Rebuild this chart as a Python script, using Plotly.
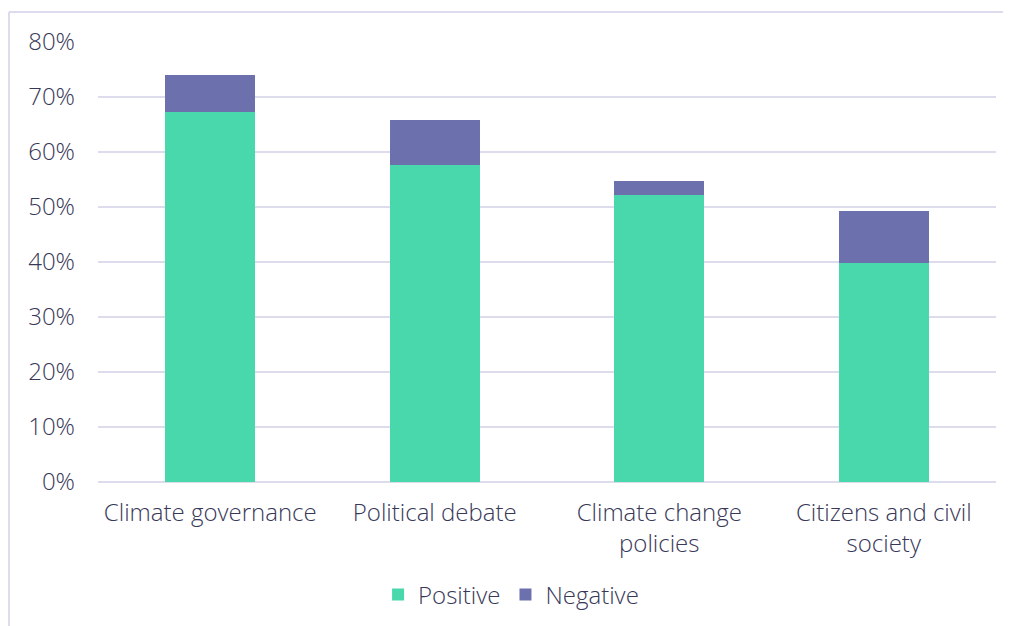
import plotly.graph_objects as go

categories = ["Climate governance", "Political debate", "Climate change<br>policies", "Citizens and civil<br>society"]
positive = [67.3, 57.6, 52.2, 39.8]
negative = [6.7, 8.2, 2.6, 9.5]
y_ticks = [0, 10, 20, 30, 40, 50, 60, 70, 80]
y_tick_labels = [f"{v}%" for v in y_ticks]

# page body has an 8px margin; coordinates below are relative to the figure origin
OFF = 8
W, H = 1011, 626
ml, mr, mt, mb = 98 - OFF, 15 + OFF, 42 - OFF, 144 + OFF
pw, ph = W - ml - mr, H - mt - mb

txt = "#383858"
font = "'Open Sans', sans-serif"
fs = 24

fig = go.Figure()
fig.add_trace(go.Bar(x=categories, y=positive, name="Positive", marker=dict(color="#48d8ac", line=dict(width=0))))
fig.add_trace(go.Bar(x=categories, y=negative, name="Negative", marker=dict(color="#6c71ae", line=dict(width=0))))

def px_x(x):
    return (x - OFF - ml) / pw

def px_y(y):
    return (H - mb - (y - OFF)) / ph

fig.update_layout(
    width=W, height=H,
    barmode="stack",
    bargap=0.6,
    margin=dict(l=ml, r=mr, t=mt, b=mb),
    plot_bgcolor="white", paper_bgcolor="white",
    font=dict(family=font, color=txt, size=fs, weight=300),
    showlegend=True,
    legend=dict(orientation="h", x=0.46, xanchor="center", y=px_y(595), yanchor="middle",
                font=dict(size=fs, color=txt, weight=300), itemwidth=30, traceorder="normal"),
    xaxis=dict(showgrid=False, showline=False, tickfont=dict(size=fs, color=txt, weight=300), ticks="",
               ticklabelstandoff=14, automargin=False),
    yaxis=dict(range=[0, 80], tickvals=y_ticks, ticktext=y_tick_labels, showgrid=True,
               gridcolor="#dddcec", gridwidth=2, zeroline=True, zerolinecolor="#dddcec", zerolinewidth=2,
               tickfont=dict(size=fs, color=txt, weight=300), ticklabelstandoff=22, showline=False, automargin=False),
    shapes=[
        dict(type="line", xref="paper", yref="paper", x0=px_x(9), x1=px_x(1030), y0=px_y(12), y1=px_y(12),
             line=dict(color="#dcdcee", width=2)),
        dict(type="line", xref="paper", yref="paper", x0=px_x(9), x1=px_x(9), y0=px_y(12), y1=px_y(640),
             line=dict(color="#dcdcee", width=2)),
    ],
)

fig.write_html("out.html")
